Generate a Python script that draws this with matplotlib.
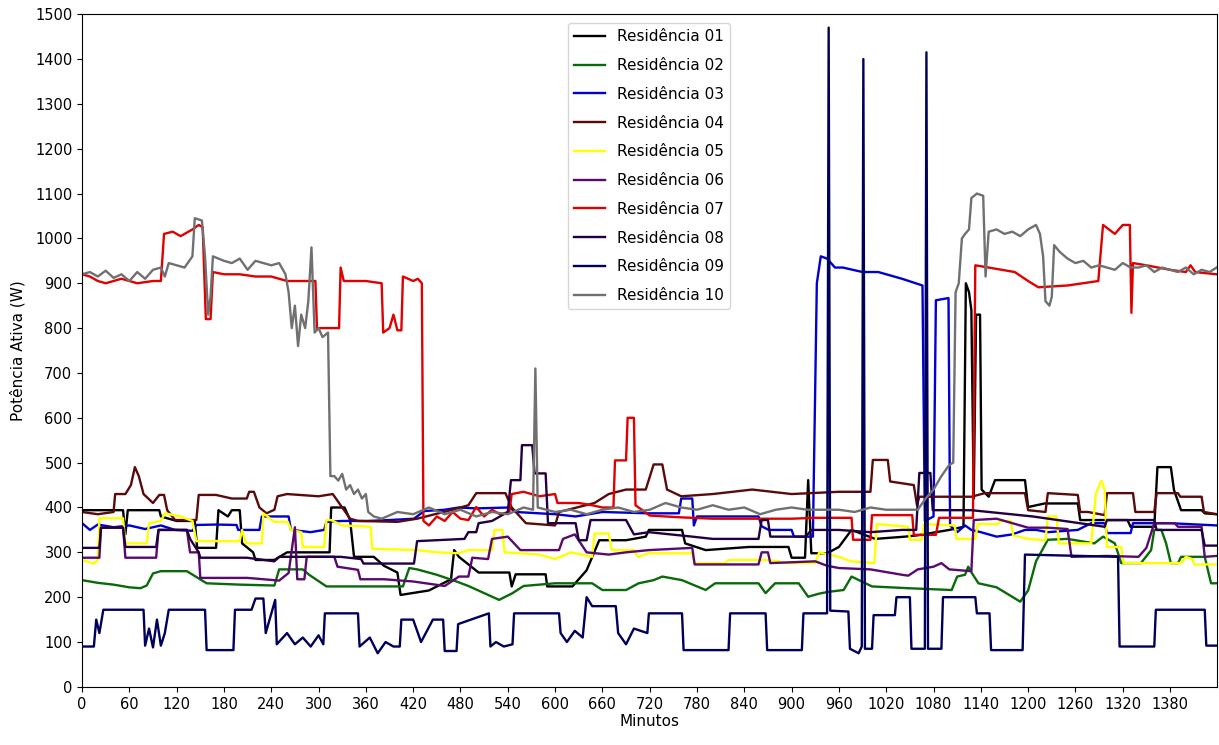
import matplotlib
matplotlib.use("Agg")
import matplotlib.pyplot as plt

plt.rcParams['font.family'] = ['DejaVu Sans']

labels = ["Residência 01", "Residência 02", "Residência 03", "Residência 04", "Residência 05",
          "Residência 06", "Residência 07", "Residência 08", "Residência 09", "Residência 10"]
colors = ["#000000", "#0a6a0a", "#0000d0", "#5a0a0a", "#ffff00",
          "#5a0a6e", "#e00000", "#22003f", "#00005a", "#707070"]

# Residência 01 (black)
t_r01 = [0, 52, 55, 58, 65, 98, 100, 120, 143, 146, 170, 173, 185, 190, 200, 203, 217, 220, 244, 260, 300, 314, 316, 318, 333, 340, 345, 370, 383, 400, 404, 440, 468, 472, 478, 503, 542, 545, 550, 588, 590, 622, 640, 656, 690, 715, 719, 761, 765, 791, 846, 896, 900, 917, 921, 925, 945, 960, 976, 1006, 1044, 1060, 1100, 1118, 1121, 1125, 1128, 1131, 1134, 1139, 1141, 1150, 1158, 1196, 1200, 1221, 1263, 1266, 1326, 1330, 1360, 1364, 1381, 1385, 1394, 1420, 1424, 1439]
v_r01 = [394, 394, 340, 394, 394, 394, 380, 370, 370, 310, 310, 394, 380, 394, 394, 320, 300, 283, 283, 300, 300, 300, 400, 400, 400, 372, 290, 290, 270, 255, 205, 215, 240, 305, 290, 255, 255, 224, 251, 251, 224, 224, 260, 327, 327, 335, 350, 350, 320, 305, 312, 312, 288, 288, 461, 298, 298, 312, 350, 330, 335, 338, 350, 357, 900, 880, 840, 420, 830, 830, 440, 424, 461, 461, 401, 409, 409, 372, 372, 357, 357, 490, 490, 439, 394, 394, 387, 385]

# Residência 02 (green)
t_r02 = [0, 20, 40, 60, 74, 82, 90, 100, 133, 145, 158, 200, 244, 250, 280, 288, 310, 350, 407, 415, 425, 450, 475, 490, 529, 546, 560, 600, 647, 660, 690, 706, 725, 736, 761, 791, 803, 858, 867, 879, 909, 921, 935, 947, 966, 976, 1002, 1048, 1103, 1110, 1120, 1124, 1130, 1137, 1160, 1190, 1200, 1210, 1225, 1250, 1284, 1295, 1310, 1318, 1343, 1356, 1360, 1369, 1375, 1381, 1390, 1394, 1424, 1432, 1439]
v_r02 = [238, 232, 228, 222, 220, 226, 253, 258, 258, 245, 231, 228, 226, 262, 262, 250, 224, 224, 224, 265, 262, 250, 235, 225, 194, 209, 225, 231, 231, 216, 216, 231, 238, 246, 238, 216, 231, 231, 209, 231, 231, 201, 208, 212, 216, 246, 224, 220, 216, 246, 250, 268, 250, 231, 222, 190, 215, 280, 328, 330, 320, 335, 320, 276, 276, 305, 350, 350, 320, 276, 276, 290, 290, 231, 231]

# Residência 03 (blue)
t_r03 = [0, 10, 20, 40, 60, 80, 100, 118, 140, 145, 170, 196, 198, 225, 228, 244, 262, 265, 290, 307, 310, 330, 362, 390, 421, 434, 460, 478, 500, 542, 550, 600, 626, 660, 719, 757, 760, 774, 776, 780, 858, 862, 871, 900, 903, 927, 932, 937, 945, 955, 965, 990, 1010, 1020, 1040, 1066, 1069, 1080, 1083, 1099, 1101, 1110, 1120, 1128, 1140, 1160, 1180, 1196, 1210, 1225, 1263, 1280, 1297, 1300, 1330, 1333, 1380, 1439]
v_r03 = [365, 350, 362, 356, 360, 352, 360, 350, 348, 361, 362, 361, 350, 350, 380, 380, 380, 350, 345, 350, 368, 370, 370, 372, 375, 392, 395, 400, 398, 400, 390, 385, 380, 390, 387, 387, 420, 420, 360, 380, 380, 358, 350, 350, 335, 335, 900, 960, 955, 935, 935, 925, 925, 920, 910, 895, 370, 380, 862, 867, 360, 345, 360, 350, 345, 335, 340, 350, 350, 345, 350, 365, 365, 343, 343, 365, 365, 360]

# Residência 04 (maroon)
t_r04 = [0, 20, 40, 42, 55, 62, 67, 72, 78, 90, 98, 104, 108, 118, 145, 148, 170, 190, 209, 212, 218, 225, 234, 244, 248, 260, 300, 318, 330, 340, 350, 400, 425, 470, 490, 500, 537, 545, 563, 600, 605, 650, 668, 690, 715, 725, 736, 742, 760, 800, 850, 900, 960, 1000, 1003, 1022, 1025, 1055, 1059, 1062, 1128, 1145, 1196, 1200, 1222, 1225, 1263, 1266, 1276, 1297, 1300, 1333, 1336, 1360, 1363, 1390, 1393, 1420, 1423, 1439]
v_r04 = [390, 385, 390, 430, 430, 450, 490, 470, 430, 410, 428, 428, 394, 372, 372, 428, 428, 420, 420, 435, 435, 400, 387, 395, 425, 430, 425, 430, 400, 375, 370, 368, 375, 395, 405, 432, 432, 400, 365, 360, 390, 410, 430, 440, 440, 496, 496, 440, 425, 430, 440, 430, 435, 435, 506, 506, 458, 450, 405, 424, 424, 432, 432, 394, 390, 432, 428, 390, 390, 383, 432, 432, 390, 390, 432, 432, 424, 424, 390, 385]

# Residência 05 (yellow)
t_r05 = [0, 15, 20, 22, 52, 55, 82, 85, 100, 105, 125, 140, 145, 200, 203, 208, 228, 230, 244, 261, 265, 278, 280, 307, 310, 316, 330, 366, 368, 425, 450, 478, 490, 520, 523, 533, 536, 580, 600, 620, 647, 650, 668, 672, 700, 705, 719, 774, 777, 816, 820, 867, 885, 888, 930, 935, 960, 975, 1005, 1008, 1048, 1050, 1065, 1068, 1107, 1109, 1133, 1136, 1162, 1165, 1178, 1181, 1200, 1222, 1225, 1236, 1239, 1280, 1286, 1293, 1297, 1300, 1318, 1321, 1394, 1400, 1408, 1411, 1439]
v_r05 = [283, 275, 283, 376, 376, 320, 320, 365, 370, 387, 380, 370, 325, 325, 350, 320, 320, 387, 368, 368, 350, 345, 312, 312, 372, 372, 360, 357, 308, 305, 300, 298, 305, 305, 350, 350, 300, 295, 285, 300, 290, 342, 342, 305, 305, 290, 298, 298, 276, 276, 283, 283, 280, 276, 276, 300, 290, 280, 276, 363, 357, 328, 328, 363, 360, 330, 330, 363, 363, 370, 370, 338, 330, 327, 380, 380, 320, 320, 432, 460, 440, 312, 312, 276, 276, 290, 285, 273, 273]

# Residência 06 (purple)
t_r06 = [0, 22, 24, 52, 55, 94, 97, 133, 137, 148, 150, 210, 250, 262, 270, 273, 282, 285, 320, 324, 350, 353, 383, 420, 460, 478, 490, 495, 515, 520, 540, 556, 605, 610, 625, 640, 668, 690, 719, 774, 777, 858, 862, 870, 873, 930, 945, 960, 1000, 1040, 1048, 1060, 1080, 1090, 1100, 1128, 1131, 1160, 1200, 1225, 1250, 1255, 1300, 1340, 1350, 1360, 1386, 1390, 1420, 1424, 1439]
v_r06 = [288, 288, 355, 355, 288, 288, 350, 350, 300, 300, 243, 243, 237, 254, 356, 240, 240, 290, 290, 268, 261, 240, 240, 235, 225, 246, 246, 288, 285, 330, 335, 305, 305, 330, 340, 300, 295, 300, 305, 310, 273, 273, 300, 300, 276, 280, 270, 265, 262, 250, 248, 262, 268, 276, 262, 258, 372, 375, 355, 355, 352, 290, 292, 290, 310, 365, 365, 357, 357, 290, 292]

# Residência 07 (red)
t_r07 = [0, 10, 20, 30, 50, 70, 90, 100, 104, 115, 125, 135, 140, 148, 153, 157, 163, 166, 180, 200, 220, 240, 260, 280, 296, 298, 310, 326, 328, 332, 360, 380, 382, 390, 395, 400, 405, 407, 420, 426, 431, 433, 440, 450, 460, 470, 480, 490, 500, 510, 520, 530, 542, 545, 560, 580, 600, 603, 630, 647, 660, 674, 676, 690, 692, 700, 702, 710, 720, 760, 800, 850, 900, 930, 960, 976, 978, 1000, 1002, 1053, 1055, 1083, 1087, 1130, 1133, 1150, 1183, 1200, 1213, 1250, 1289, 1295, 1310, 1320, 1329, 1331, 1333, 1350, 1380, 1400, 1406, 1412, 1439]
v_r07 = [920, 915, 905, 900, 910, 900, 905, 905, 1010, 1015, 1005, 1015, 1020, 1030, 1025, 820, 820, 925, 920, 920, 915, 915, 905, 905, 905, 800, 800, 800, 935, 905, 905, 900, 790, 800, 830, 795, 795, 915, 905, 910, 900, 370, 360, 380, 370, 390, 375, 372, 401, 380, 395, 385, 390, 430, 435, 425, 430, 410, 410, 405, 400, 400, 505, 505, 600, 600, 405, 395, 382, 378, 375, 375, 375, 377, 377, 377, 328, 328, 383, 383, 339, 339, 377, 377, 940, 935, 925, 905, 891, 895, 905, 1030, 1010, 1030, 1030, 834, 945, 940, 930, 925, 940, 925, 920]

# Residência 08 (dark indigo)
t_r08 = [0, 22, 24, 52, 55, 94, 97, 133, 137, 148, 150, 209, 244, 250, 328, 354, 357, 421, 425, 485, 490, 500, 503, 520, 540, 544, 556, 558, 571, 574, 588, 591, 626, 630, 640, 645, 690, 700, 719, 774, 800, 858, 862, 870, 873, 918, 925, 960, 1000, 1040, 1058, 1062, 1076, 1079, 1128, 1206, 1297, 1300, 1360, 1363, 1420, 1424, 1439]
v_r08 = [310, 310, 355, 355, 312, 312, 350, 350, 330, 300, 288, 288, 280, 290, 290, 285, 275, 275, 325, 330, 345, 345, 365, 370, 390, 461, 461, 539, 539, 476, 476, 365, 365, 327, 327, 372, 372, 340, 345, 335, 330, 330, 372, 372, 335, 335, 350, 350, 345, 350, 350, 477, 477, 394, 394, 380, 357, 372, 372, 350, 350, 315, 315]

# Residência 09 (navy)
t_r09 = [0, 15, 18, 22, 27, 78, 80, 85, 90, 95, 100, 105, 110, 156, 158, 192, 194, 215, 220, 230, 233, 245, 247, 260, 270, 280, 290, 300, 306, 308, 350, 352, 365, 375, 385, 395, 403, 405, 420, 430, 445, 458, 460, 475, 477, 516, 518, 525, 535, 546, 548, 605, 607, 615, 625, 635, 640, 647, 677, 680, 690, 700, 717, 719, 761, 763, 820, 822, 867, 869, 913, 915, 945, 947, 949, 972, 974, 985, 989, 991, 993, 1002, 1004, 1031, 1033, 1050, 1052, 1069, 1071, 1073, 1090, 1092, 1133, 1135, 1151, 1153, 1193, 1196, 1314, 1316, 1360, 1362, 1424, 1426, 1439]
v_r09 = [90, 90, 150, 120, 172, 172, 92, 130, 88, 150, 92, 120, 172, 172, 82, 82, 172, 172, 197, 197, 120, 194, 95, 120, 95, 110, 90, 115, 95, 164, 164, 90, 110, 75, 100, 90, 90, 150, 150, 100, 150, 150, 80, 80, 140, 164, 90, 100, 90, 95, 164, 164, 120, 100, 125, 110, 200, 180, 180, 120, 95, 130, 120, 164, 164, 82, 82, 164, 164, 82, 82, 164, 164, 1470, 170, 168, 85, 75, 90, 1400, 85, 85, 160, 160, 200, 200, 85, 85, 1415, 85, 85, 200, 200, 164, 164, 82, 82, 295, 290, 90, 90, 172, 172, 92, 92]

# Residência 10 (gray)
t_r10 = [0, 10, 20, 30, 40, 50, 60, 70, 80, 90, 100, 105, 110, 120, 130, 140, 143, 152, 156, 160, 163, 166, 180, 190, 200, 210, 220, 240, 250, 258, 262, 266, 270, 274, 278, 283, 287, 291, 295, 300, 305, 312, 315, 320, 325, 330, 335, 340, 345, 350, 355, 360, 363, 370, 380, 400, 420, 440, 460, 480, 500, 520, 540, 560, 572, 575, 578, 600, 620, 640, 660, 680, 700, 720, 740, 760, 780, 800, 820, 840, 860, 880, 900, 920, 940, 960, 980, 1000, 1020, 1040, 1060, 1070, 1080, 1090, 1100, 1105, 1108, 1112, 1116, 1120, 1125, 1128, 1135, 1143, 1146, 1150, 1160, 1170, 1180, 1190, 1200, 1210, 1215, 1219, 1222, 1227, 1230, 1233, 1240, 1250, 1260, 1270, 1280, 1290, 1300, 1310, 1320, 1330, 1340, 1350, 1360, 1370, 1380, 1390, 1400, 1410, 1420, 1430, 1439]
v_r10 = [920, 925, 915, 928, 912, 920, 905, 925, 910, 930, 935, 915, 945, 940, 935, 960, 1045, 1040, 960, 830, 870, 960, 950, 945, 955, 930, 950, 940, 945, 920, 880, 800, 850, 760, 830, 800, 860, 980, 790, 800, 780, 790, 470, 470, 460, 475, 440, 450, 430, 440, 420, 430, 390, 380, 375, 390, 385, 400, 385, 395, 380, 390, 385, 400, 395, 710, 400, 390, 395, 385, 395, 400, 390, 395, 410, 400, 395, 405, 395, 400, 385, 395, 400, 395, 395, 395, 390, 400, 395, 395, 395, 420, 440, 470, 495, 500, 880, 900, 1000, 1010, 1020, 1090, 1100, 1095, 915, 1015, 1020, 1010, 1015, 1005, 1020, 1030, 1010, 960, 860, 850, 870, 985, 970, 955, 945, 950, 935, 940, 935, 930, 945, 935, 935, 940, 925, 935, 930, 925, 935, 920, 930, 925, 935]

series_t = [t_r01, t_r02, t_r03, t_r04, t_r05, t_r06, t_r07, t_r08, t_r09, t_r10]
series_v = [v_r01, v_r02, v_r03, v_r04, v_r05, v_r06, v_r07, v_r08, v_r09, v_r10]

x_ticks = list(range(0, 1440, 60))
y_ticks = list(range(0, 1501, 100))

fig = plt.figure(figsize=(12.19, 7.45), dpi=100)
ax = fig.add_axes([0.0673, 0.078, 0.9307, 0.903])

for t, v, c, lab in zip(series_t, series_v, colors, labels):
    ax.plot(t, v, color=c, linewidth=1.7, label=lab)

ax.set_xlim(0, 1439)
ax.set_ylim(0, 1500)
ax.set_xticks(x_ticks)
ax.set_yticks(y_ticks)
ax.tick_params(labelsize=10.5)
ax.set_xlabel("Minutos", fontsize=11, labelpad=2)
ax.set_ylabel("Potência Ativa (W)", fontsize=11, labelpad=7)

leg = ax.legend(loc="upper center", bbox_to_anchor=(0.5, 0.998), fontsize=11,
                frameon=True, fancybox=True, framealpha=0.8, labelspacing=0.9)

fig.savefig("out.png", dpi=100)
